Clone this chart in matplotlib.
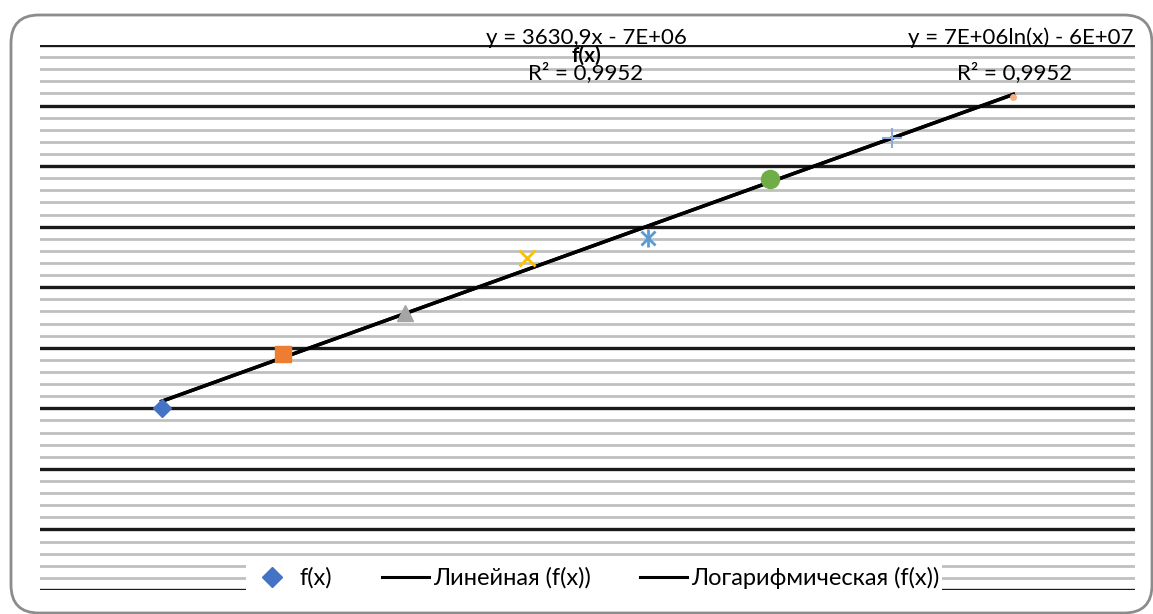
import numpy as np
import matplotlib
matplotlib.use("Agg")
import matplotlib.pyplot as plt
from matplotlib.patches import FancyBboxPatch
from matplotlib.transforms import IdentityTransform
from matplotlib.lines import Line2D

# ---- data ----
years = [2010, 2011, 2012, 2013, 2014, 2015, 2016, 2017]
values = [15040, 19500, 22890, 27440, 29090, 33970, 37360, 40740]
series_name = "f(x)"
title = "f(x)"
lin_label = "Линейная (f(x))"
log_label = "Логарифмическая (f(x))"
lin_eq = "y = 3630,9x - 7E+06"
log_eq = "y = 7E+06ln(x) - 6E+07"
r2_text = "R² = 0,9952"

point_colors = ["#4472C4", "#ED7D31", "#A5A5A5", "#FFC000",
                "#5B9BD5", "#70AD47", "#8FAADC", "#F4B183"]
point_markers = ["D", "s", "^", "x", "asterisk", "o", "+", "o"]
point_sizes = [9.5, 12, 11.5, 12, 12, 13, 14, 4]

plt.rcParams['font.family'] = ['Lato', 'DejaVu Sans']

W, H = 1153, 614
fig = plt.figure(figsize=(W / 100, H / 100), dpi=100)

# rounded frame
frame = FancyBboxPatch((11, H - 613), 1141, 598,
                       boxstyle="round,pad=0,rounding_size=28",
                       transform=IdentityTransform(), facecolor="none",
                       edgecolor="#8C8C8C", linewidth=2, zorder=-5)
fig.patches.append(frame)

L, R, T, B = 40, 1135, 45, 590
ax = fig.add_axes([L / W, (H - B) / H, (R - L) / W, (B - T) / H])
ax.set_zorder(1)
ax.set_facecolor("none")
ax.set_xlim(2009, 2018)
ax.set_ylim(0, 45000)
ax.set_yticks(np.arange(0, 45001, 5000))
ax.set_yticks(np.arange(0, 45001, 1000), minor=True)
ax.grid(True, which="major", axis="y", color="#1a1a1a", linewidth=2.4, zorder=1)
ax.grid(True, which="minor", axis="y", color="#C0C0C0", linewidth=2.0, zorder=0.9)
ax.set_xticks([])
ax.tick_params(axis="y", which="both", length=0, labelleft=False)
for s in ax.spines.values():
    s.set_visible(False)

x = np.array(years, dtype=float)
y = np.array(values, dtype=float)

# trendlines
k, b = np.polyfit(x, y, 1)
xs = np.linspace(x.min(), x.max(), 200)
ax.plot(xs, k * xs + b, color="black", lw=2.5, zorder=3)
a, c = np.polyfit(np.log(x), y, 1)
ax.plot(xs, a * np.log(xs) + c, color="black", lw=2.5, zorder=3)

# points
for xi, yi, col, mk, ms in zip(x, y, point_colors, point_markers, point_sizes):
    if mk == "asterisk":
        ax.plot(xi, yi, marker="x", ms=ms * 0.85, mew=2, color=col, ls="none", zorder=4)
        ax.plot(xi, yi, marker="|", ms=ms * 1.1, mew=2, color=col, ls="none", zorder=4)
    elif mk in ("x", "+"):
        ax.plot(xi, yi, marker=mk, ms=ms, mew=2 if mk == "x" else 1.5,
                color=col, ls="none", zorder=4)
    else:
        ax.plot(xi, yi, marker=mk, ms=ms, color=col, mec=col, ls="none", zorder=4)

# texts (figure pixel positions)
def fx(px):
    return px / W

def fy(py):
    return 1 - py / H

fig.text(fx(586), fy(44), lin_eq, ha="center", va="baseline", fontsize=16, color="black", zorder=5)
fig.text(fx(586), fy(79), r2_text, ha="center", va="baseline", fontsize=16, color="black", zorder=5)
fig.text(fx(586), fy(62), title, ha="center", va="baseline", fontsize=15,
         fontweight="bold", color="black", zorder=5)
fig.text(fx(1134), fy(44), log_eq, ha="right", va="baseline", fontsize=16, color="black", zorder=5)
fig.text(fx(1015), fy(79), r2_text, ha="center", va="baseline", fontsize=16, color="black", zorder=5)

# legend
handles = [
    Line2D([], [], marker="D", color=point_colors[0], ls="none", ms=10),
    Line2D([], [], color="black", lw=2.2),
    Line2D([], [], color="black", lw=2.2),
]
leg = fig.legend(handles, [series_name, lin_label, log_label], loc="center",
                 bbox_to_anchor=(fx(594), fy(578)), ncol=3, frameon=True,
                 fontsize=17, handlelength=2.0, handletextpad=0.15,
                 columnspacing=2.1, borderpad=0.1, borderaxespad=0)
leg.set_zorder(6)
leg.get_frame().set_facecolor("white")
leg.get_frame().set_edgecolor("none")
leg.get_frame().set_alpha(1)
leg.get_frame().set_boxstyle("square", pad=0)

fig.savefig("out.png", dpi=100)
